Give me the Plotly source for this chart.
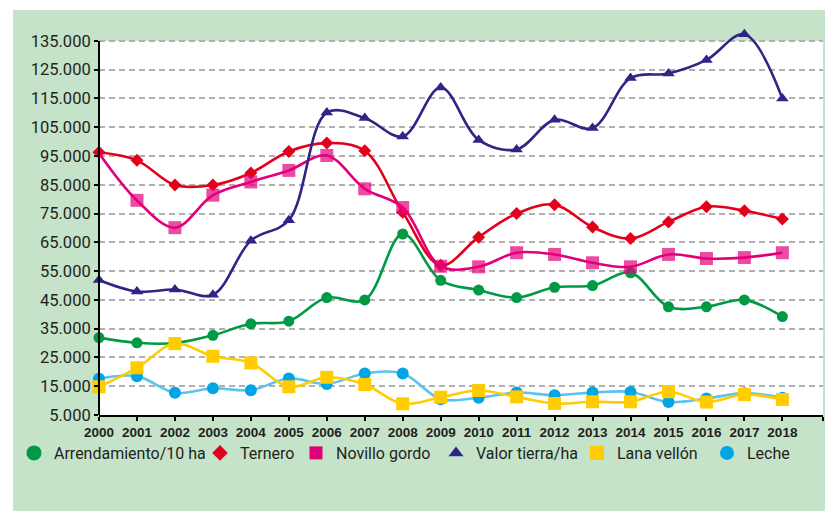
import plotly.graph_objects as go

years = [2000, 2001, 2002, 2003, 2004, 2005, 2006, 2007, 2008, 2009,
         2010, 2011, 2012, 2013, 2014, 2015, 2016, 2017, 2018]
year_labels = [str(y) for y in years]

arrendamiento = [31900, 30100, 30000, 32700, 36700, 37600, 45800, 45000, 67900, 51800,
                 48400, 45800, 49400, 50000, 54400, 42600, 42600, 45000, 39200]
ternero = [96300, 93500, 84900, 84900, 89100, 96600, 99500, 96800, 75500, 57000,
           66800, 75000, 78100, 70300, 66300, 72100, 77400, 76000, 73100]
novillo = [96000, 79600, 70100, 81400, 86000, 90000, 95200, 83600, 77100, 56700,
           56500, 61400, 60800, 57900, 56500, 60800, 59400, 59700, 61400]
valor_tierra = [51900, 47900, 48600, 46800, 65600, 72700, 110100, 108200, 101800, 118800,
                100600, 97300, 107600, 104700, 122100, 123700, 128400, 137300, 115000]
lana = [14800, 21400, 29800, 25400, 23100, 14800, 18100, 15600, 8900, 11200,
        13500, 11300, 9000, 9600, 9600, 13100, 9500, 12100, 10400]
leche = [17600, 18500, 12700, 14300, 13600, 17700, 15800, 19400, 19400, 10500,
         11000, 12800, 11900, 12800, 13000, 9500, 10700, 12600, 11000]

y_tick_vals = [5000, 15000, 25000, 35000, 45000, 55000, 65000, 75000, 85000,
               95000, 105000, 115000, 125000, 135000]
y_tick_text = ["5.000", "15.000", "25.000", "35.000", "45.000", "55.000", "65.000",
               "75.000", "85.000", "95.000", "105.000", "115.000", "125.000", "135.000"]

names = ["Arrendamiento/10 ha", "Ternero", "Novillo gordo", "Valor tierra/ha",
         "Lana vellón", "Leche"]

NARROW = "Roboto, 'DejaVu Sans Condensed', sans-serif"
GREEN_BG = "#c5e3c8"
TEXT = "#231f20"

# the page body adds an 8px offset; layout pixels below are figure pixels
OFF = 8
Y0, Y1 = 5000, 138800
X0, X1 = 2000, 2019.07
W, H = 833, 511
L, R, T, B = 99 - OFF, W - (823 - OFF), 30 - OFF, H - (415 - OFF)
PW, PH = W - L - R, H - T - B
BOTTOM = T + PH

fig = go.Figure()

series = [
    # name, values, line color, marker color, symbol, size
    (names[0], arrendamiento, "#009a44", "#009a44", "circle", 11),
    (names[1], ternero, "#e3001b", "#e3001b", "diamond", 10),
    (names[2], novillo, "#e2007a", "#e2007a", "square", 13),
    (names[3], valor_tierra, "#2e2585", "#2e2585", "triangle-up", 11),
    (names[5], leche, "#5dc3ee", "#00a5e6", "circle", 12),
    (names[4], lana, "#ffcc00", "#ffcc00", "square", 13),
]

for name, vals, lc, mc, sym, sz in series:
    sizes = sz
    if name == names[2]:
        sizes = [0] + [sz] * (len(vals) - 1)
    fig.add_trace(go.Scatter(
        x=years, y=vals, name=name, mode="lines+markers",
        line=dict(color=lc, width=2.6, shape="spline", smoothing=1.0),
        marker=dict(color=mc, symbol=sym, size=sizes, line=dict(width=0)),
        cliponaxis=False, showlegend=False,
    ))

# legend-only entries (markers only), each in its own legend for exact placement
legend_items = [
    (names[0], "#009a44", "circle", 15, 51),
    (names[1], "#e3001b", "diamond", 12, 237),
    (names[2], "#e2007a", "square", 13, 333),
    (names[3], "#2e2585", "triangle-up", 13, 473),
    (names[4], "#ffcc00", "square", 14, 614),
    (names[5], "#00a5e6", "circle", 14, 744),
]
legend_layouts = {}
for i, (name, col, sym, sz, text_x) in enumerate(legend_items):
    lname = "legend" if i == 0 else f"legend{i+1}"
    fig.add_trace(go.Scatter(
        x=[None], y=[None], name=name, mode="markers",
        marker=dict(color=col, symbol=sym, size=sz, line=dict(width=0)),
        showlegend=True, legend=lname,
    ))
    origin_px = text_x - OFF + 3 - 40
    legend_layouts[lname] = dict(
        x=(origin_px - L) / PW, xanchor="left",
        y=(BOTTOM - (453 - OFF)) / PH, yanchor="middle",
        orientation="h", bgcolor="rgba(0,0,0,0)", borderwidth=0,
        font=dict(family=NARROW, size=16, color=TEXT),
        itemwidth=30, tracegroupgap=0,
    )

white_top = (135000 - Y0) / (Y1 - Y0)
shapes = [
    dict(type="rect", xref="paper", yref="paper",
         x0=(13 - OFF - L) / PW, x1=(W - L) / PW + 0.02,
         y0=(BOTTOM - H) / PH - 0.02, y1=(BOTTOM - (10 - OFF)) / PH,
         fillcolor=GREEN_BG, line=dict(width=0), layer="below"),
    dict(type="rect", xref="paper", yref="paper",
         x0=0, x1=1, y0=0, y1=white_top,
         fillcolor="white", line=dict(width=0), layer="below"),
    dict(type="line", xref="paper", yref="paper",
         x0=0, x1=0, y0=0, y1=white_top,
         line=dict(color="black", width=2), layer="above"),
]

fig.update_layout(
    width=W, height=H,
    margin=dict(l=L, r=R, t=T, b=B, pad=0, autoexpand=False),
    paper_bgcolor="white",
    plot_bgcolor="rgba(0,0,0,0)",
    shapes=shapes,
    showlegend=True,
    **legend_layouts,
)

fig.update_xaxes(
    range=[X0, X1],
    tickvals=years + [X1], ticktext=year_labels + [""],
    ticks="outside", ticklen=4, tickwidth=1.5, tickcolor="black",
    showline=True, linecolor="black", linewidth=2,
    showgrid=False, zeroline=False,
    tickfont=dict(family="'Liberation Sans', Arial, sans-serif", size=13.5,
                  color=TEXT, weight="bold"),
)
fig.update_yaxes(
    range=[Y0, Y1],
    tickvals=y_tick_vals, ticktext=y_tick_text,
    ticks="outside", ticklen=4, tickwidth=1.5, tickcolor="black",
    showline=False, zeroline=False,
    showgrid=True, gridcolor="#b0b0b0", gridwidth=1.5, griddash="6px,4px",
    tickfont=dict(family=NARROW, size=16.5, color=TEXT),
)

fig.write_html("out.html")
